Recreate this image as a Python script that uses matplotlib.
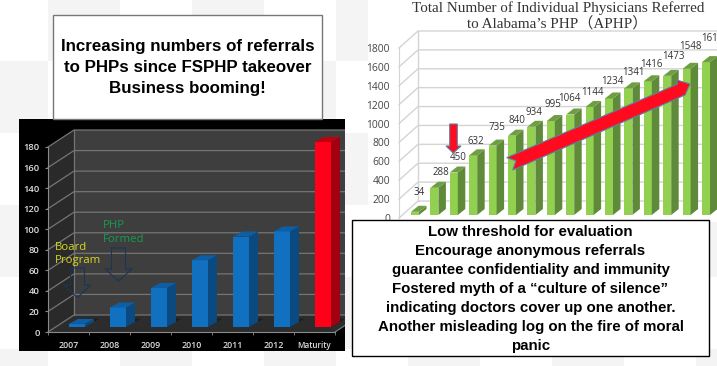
import matplotlib
matplotlib.use("Agg")
import matplotlib.pyplot as plt
from matplotlib.patches import Polygon, Rectangle

W, H = 717, 366

# left chart
years = ["2007", "2008", "2009", "2010", "2011", "2012", "Maturity"]
referrals = [3, 19, 38, 65, 88, 93, 180]
left_ticks = list(range(0, 181, 20))

# right chart
aphp_values = [34, 288, 450, 632, 735, 840, 934, 995, 1064, 1144, 1234, 1341, 1416, 1473, 1548, 1619]
aphp_ticks = list(range(0, 1801, 200))
# label nudges in pixels from each bar top, the labels sit unevenly in the source
label_dx = [4, 7, 4, 3, 4, 5, 3, 2, -1, 3, 3, 5, 4, 6, 4, 6]
label_dy = [19, 15, 15, 14, 18, 15, 14, 17, 16, 14, 17, 16, 17, 19, 22, 24]

top_lines = [
    "Increasing numbers of referrals",
    "to PHPs since FSPHP takeover",
    "Business booming!",
]
bottom_lines = [
    "Low threshold for evaluation",
    "Encourage anonymous referrals",
    "guarantee confidentiality and immunity",
    "Fostered myth of a \u201cculture of silence\u201d",
    "indicating doctors cover up one another.",
    "Another misleading log on the fire of moral",
    "panic",
]


def px_axes(fig, x0, y0, x1, y1, **kw):
    # axes placed by pixel box, y measured from the top
    return fig.add_axes([x0 / W, 1 - y1 / H, (x1 - x0) / W, (y1 - y0) / H], **kw)


def poly(ax, pts, color, z=3, **kw):
    ax.add_patch(Polygon(pts, closed=True, facecolor=color, edgecolor=kw.pop("edge", "none"), zorder=z, **kw))


def bars3d(ax, xs, vals, w, base, dx, dy, front, side, top):
    # front from ax.bar, the side and top faces follow from the same values
    ax.bar(xs, vals, width=w, bottom=base, color=front, zorder=5, linewidth=0)
    for i, (x, v) in enumerate(zip(xs, vals)):
        r = x + w / 2
        l = x - w / 2
        t = base + v
        poly(ax, [(r, base), (r + dx, base + dy), (r + dx, t + dy), (r, t)], side[i], z=5)
        poly(ax, [(l, t), (r, t), (r + dx, t + dy), (l + dx, t + dy)], top[i], z=5)


fig = plt.figure(figsize=(W / 100, H / 100), dpi=100)

# checker backdrop
bg = fig.add_axes([0, 0, 1, 1], zorder=0)
bg.set_xlim(0, W)
bg.set_ylim(H, 0)
bg.axis("off")
for col in range(12):
    for row in range(7):
        if (col + row) % 2 == 0:
            bg.add_patch(Rectangle((48 + (col - 1) * 72, -11 + (row - 1) * 72), 72, 72, color="#f4f4f4", lw=0))

# ---- left chart ----
ax = px_axes(fig, 19, 119, 345, 351, zorder=1, facecolor="#000000")
px_x = 41.0
px_y = 185 / 180
ax.set_xlim((19 - 68.5) / px_x, (345 - 68.5) / px_x)
ax.set_ylim((332 - 351) / px_y, (332 - 119) / px_y)
x0 = -0.5
x1 = 6.5
ddx = 26 / px_x
ddy = 17 / px_y
xmax = ax.get_xlim()[1]
poly(ax, [(x0, 0), (x0 + ddx, ddy), (x0 + ddx, 180 + ddy), (x0, 180)], "#2a2a2a", z=1)
poly(ax, [(x0 + ddx, ddy), (xmax, ddy), (xmax, 180 + ddy), (x0 + ddx, 180 + ddy)], "#3e3e3e", z=1)
poly(ax, [(x0, 0), (x1, 0), (x1 + ddx, ddy), (x0 + ddx, ddy)], "#2c2c2c", z=1)
for v in left_ticks:
    ax.plot([x0, x0 + ddx, xmax], [v, v + ddy, v + ddy], color="#757575", lw=0.9, zorder=2)
ax.plot([x0 + ddx, x0 + ddx], [ddy, 180 + ddy], color="#757575", lw=0.9, zorder=2)
ax.plot([x1, x1 + ddx], [0, ddy], color="#757575", lw=0.9, zorder=2)

xs = [i + 8.5 / px_x for i in range(len(years))]
n = len(years)
for x in xs:
    # soft shadow on the floor behind each bar
    poly(ax, [(x - 0.2, 5), (x + 0.2, 5), (x + 0.55, 13), (x + 0.1, 13)], "#1e1e1e", z=3)
bars3d(ax, xs, referrals, 16 / px_x, 5 / px_y, 9 / px_x, 5 / px_y,
       ["#1170bf"] * (n - 1) + ["#ff0018"],
       ["#0b4a80"] * (n - 1) + ["#a00010"],
       ["#0e5ea6"] * (n - 1) + ["#c00010"])

for s in ["top", "right"]:
    ax.spines[s].set_visible(False)
ax.spines["left"].set_position(("data", x0))
ax.spines["bottom"].set_position(("data", 0))
ax.spines["left"].set_bounds(0, 180)
ax.spines["bottom"].set_bounds(x0, x1)
ax.spines["left"].set_color("#8a8a8a")
ax.spines["bottom"].set_color("#8a8a8a")
ax.set_yticks(left_ticks)
ax.set_xticks(range(n))
ax.set_xticklabels(years)
ax.set_xticks([i - 0.5 for i in range(n + 1)], minor=True)
ax.tick_params(axis="y", colors="#8a8a8a", labelcolor="#dddddd", labelsize=6.8, length=2, pad=4)
ax.tick_params(axis="x", which="major", length=0, labelcolor="#dddddd", labelsize=6.4, pad=6.5)
ax.tick_params(axis="x", which="minor", colors="#8a8a8a", length=2)
ax.get_xticklabels()[-1].set_fontsize(5.8)
for lab in ax.get_xticklabels() + ax.get_yticklabels():
    lab.set_family("Open Sans")
    lab.set_fontweight("semibold")

# ---- right chart ----
rx = px_axes(fig, 368, 0, W, 222, zorder=2, facecolor="white")
step = 19.4
sy = 170 / 1800
rx.set_xlim((368 - 415) / step, (717 - 415) / step)
rx.set_ylim((218 - 222) / sy, 218 / sy)
for s in rx.spines.values():
    s.set_visible(False)
x_ax = (399 - 415) / step
bdx = 19 / step
bdy = 17 / sy
rmax = rx.get_xlim()[1]
for v in aphp_ticks:
    rx.plot([x_ax, x_ax + bdx, rmax], [v, v + bdy, v + bdy], color="#d4d4d4", lw=1.0, zorder=2)
rx.plot([x_ax + bdx, x_ax + bdx], [bdy, 1800 + bdy], color="#d4d4d4", lw=1.0, zorder=2)
rx.spines["left"].set_visible(True)
rx.spines["left"].set_position(("data", x_ax))
rx.spines["left"].set_bounds(0, 1800)
rx.spines["left"].set_color("#d4d4d4")
rx.set_yticks(aphp_ticks)
rx.set_xticks([])
rx.tick_params(axis="y", length=0, labelsize=7.4, labelcolor="#444444", pad=6.5)
for lab in rx.get_yticklabels():
    lab.set_family("Open Sans")

rs = list(range(len(aphp_values)))
m = len(aphp_values)
bars3d(rx, rs, aphp_values, 8 / step, 3 / sy, 7.5 / step, 6 / sy,
       ["#92d050"] * m, ["#5f8a3a"] * m, ["#6f9e42"] * m)
for x, v, lx, ly in zip(rs, aphp_values, label_dx, label_dy):
    rx.annotate(str(v), (x, v + 3 / sy), xytext=(lx * 0.72, ly * 0.72), textcoords="offset points",
                ha="center", va="center", fontsize=7, color="#333333", family="Open Sans",
                zorder=6, annotation_clip=False)

title_family = ["Liberation Serif", "Noto Sans CJK JP"]
fig.text(558 / W, 1 - 8 / H, "Total Number of Individual Physicians Referred", ha="center", va="center",
         fontsize=10.9, color="#333333", family=title_family, zorder=10)
fig.text(557 / W, 1 - 24 / H, "to Alabama\u2019s PHP\uff08APHP\uff09", ha="center", va="center",
         fontsize=10.9, color="#333333", family=title_family, zorder=10)

# ---- overlay: boxes, arrows, notes ----
ov = fig.add_axes([0, 0, 1, 1], zorder=5)
ov.set_xlim(0, W)
ov.set_ylim(H, 0)
ov.axis("off")
ov.patch.set_alpha(0)

ov.add_patch(Rectangle((53, 15), 269, 104, facecolor="white", edgecolor="#777777", lw=1.0))
for i, line in enumerate(top_lines):
    ov.text(187.5, 47 + i * 21, line, ha="center", va="center", fontsize=12.15, fontweight="bold",
            family="Liberation Sans", color="black")

ov.add_patch(Rectangle((352, 220), 357, 136, facecolor="white", edgecolor="black", lw=1.0))
for i, line in enumerate(bottom_lines):
    ov.text(530.5, 232 + i * 19, line, ha="center", va="center", fontsize=10.8, fontweight="bold",
            family="Liberation Sans", color="black")

# red callouts
poly(ov, [(506.7, 157.7), (516, 160.7), (512.7, 170), (685, 95), (690, 84), (676.7, 80), (677.7, 84)],
     "#ff0a1e", z=6, edge="#5f7f9f", lw=0.8)
poly(ov, [(449.7, 124), (457.3, 124), (457.3, 146), (461, 146), (453.3, 153), (446, 146), (449.7, 146)],
     "#ff0a1e", z=6, edge="#5f7f9f", lw=0.8)

# outlined arrows and notes on the dark chart
for cx, top_y, base_y, tip_y in [(77.5, 268, 285, 297.5), (118.5, 248, 269, 281)]:
    ov.plot([cx - 7, cx + 7, cx + 7, cx + 13.5, cx, cx - 13.5, cx - 7, cx - 7],
            [top_y, top_y, base_y, base_y, tip_y, base_y, base_y, top_y],
            color="#1b3556", lw=0.8, zorder=6)
ov.text(55, 248, "Board", color="#d8d820", fontsize=8.2, family="Open Sans", va="center", zorder=6)
ov.text(55, 261, "Program", color="#d8d820", fontsize=8.2, family="Open Sans", va="center", zorder=6)
ov.text(103, 226, "PHP", color="#169c50", fontsize=8.2, family="Open Sans", va="center", zorder=6)
ov.text(103, 239, "Formed", color="#169c50", fontsize=8.2, family="Open Sans", va="center", zorder=6)

fig.savefig("out.png", dpi=100)
